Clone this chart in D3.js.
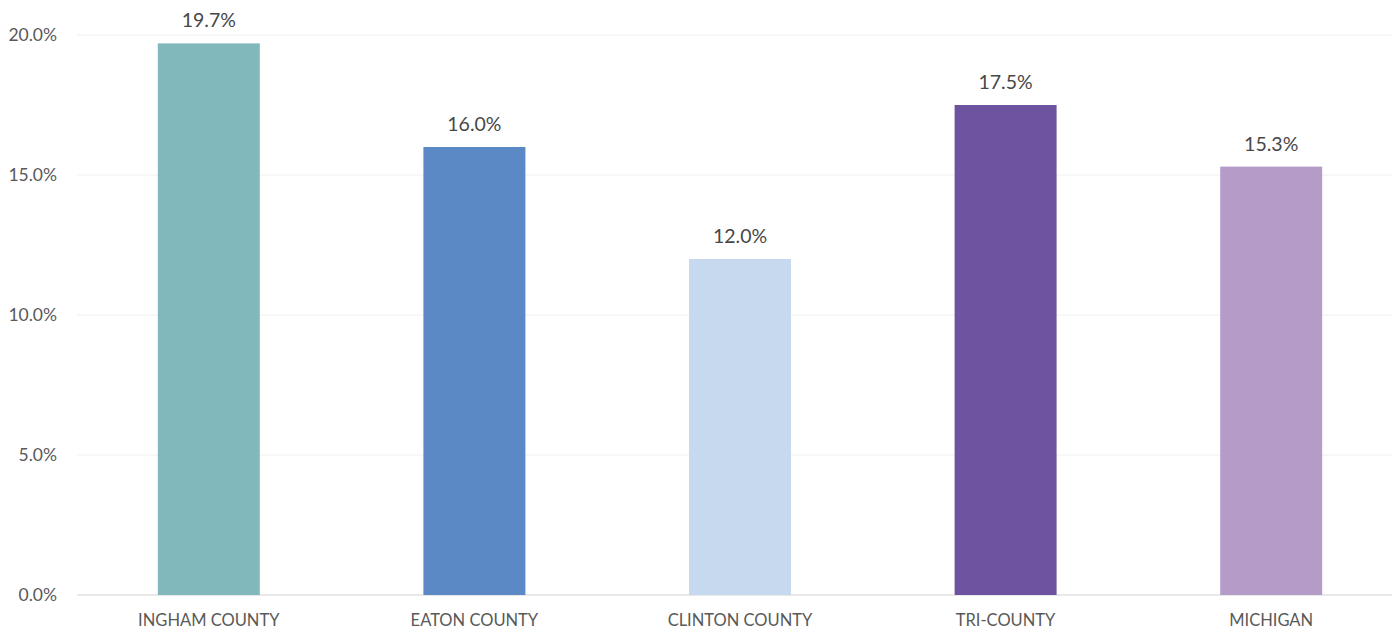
<!DOCTYPE html>
<html>
<head>
<meta charset="utf-8">
<script src="https://cdn.jsdelivr.net/npm/d3@7"></script>
<style>
  body { margin: 0; background: #fff; }
  text { font-family: Lato, "Open Sans", sans-serif; fill: #595959; }
</style>
</head>
<body>
<svg width="1397" height="630"></svg>
<script>
const categories = ["INGHAM COUNTY", "EATON COUNTY", "CLINTON COUNTY", "TRI-COUNTY", "MICHIGAN"];
const values = [19.7, 16.0, 12.0, 17.5, 15.3];
const colors = ["#80b8bb", "#5b89c6", "#c7d9ef", "#6e53a0", "#b59cc8"];
const yTicks = [0, 5, 10, 15, 20];

const svg = d3.select("svg");

const x = d3.scaleBand()
  .domain(categories)
  .range([76, 1404])
  .paddingInner(0.616)
  .paddingOuter(0.308);

const y = d3.scaleLinear()
  .domain([0, 20])
  .range([595, 35]);

// gridlines
svg.append("g")
  .selectAll("line")
  .data(yTicks)
  .join("line")
  .attr("x1", 77)
  .attr("x2", 1392)
  .attr("y1", d => y(d))
  .attr("y2", d => y(d))
  .attr("stroke", d => d == 0 ? "#d4d4d4" : "#efefef")
  .attr("stroke-width", 1.2);

// y tick labels
svg.append("g")
  .selectAll("text")
  .data(yTicks)
  .join("text")
  .attr("x", 57)
  .attr("y", d => y(d))
  .attr("dy", "0.35em")
  .attr("text-anchor", "end")
  .style("font-size", "17.5px")
  .text(d => d.toFixed(1) + "%");

// bars
svg.append("g")
  .selectAll("rect")
  .data(values)
  .join("rect")
  .attr("x", (d, i) => x(categories[i]))
  .attr("width", x.bandwidth())
  .attr("y", d => y(d))
  .attr("height", d => y(0) - y(d))
  .attr("fill", (d, i) => colors[i]);

// value labels
svg.append("g")
  .selectAll("text")
  .data(values)
  .join("text")
  .attr("x", (d, i) => x(categories[i]) + x.bandwidth() / 2)
  .attr("y", d => y(d) - 16)
  .attr("text-anchor", "middle")
  .style("font-size", "19.5px")
  .style("fill", "#474747")
  .text(d => d.toFixed(1) + "%");

// category labels
svg.append("g")
  .selectAll("text")
  .data(categories)
  .join("text")
  .attr("x", d => x(d) + x.bandwidth() / 2)
  .attr("y", 626)
  .attr("text-anchor", "middle")
  .style("font-size", "16.5px")
  .text(d => d);
</script>
</body>
</html>
